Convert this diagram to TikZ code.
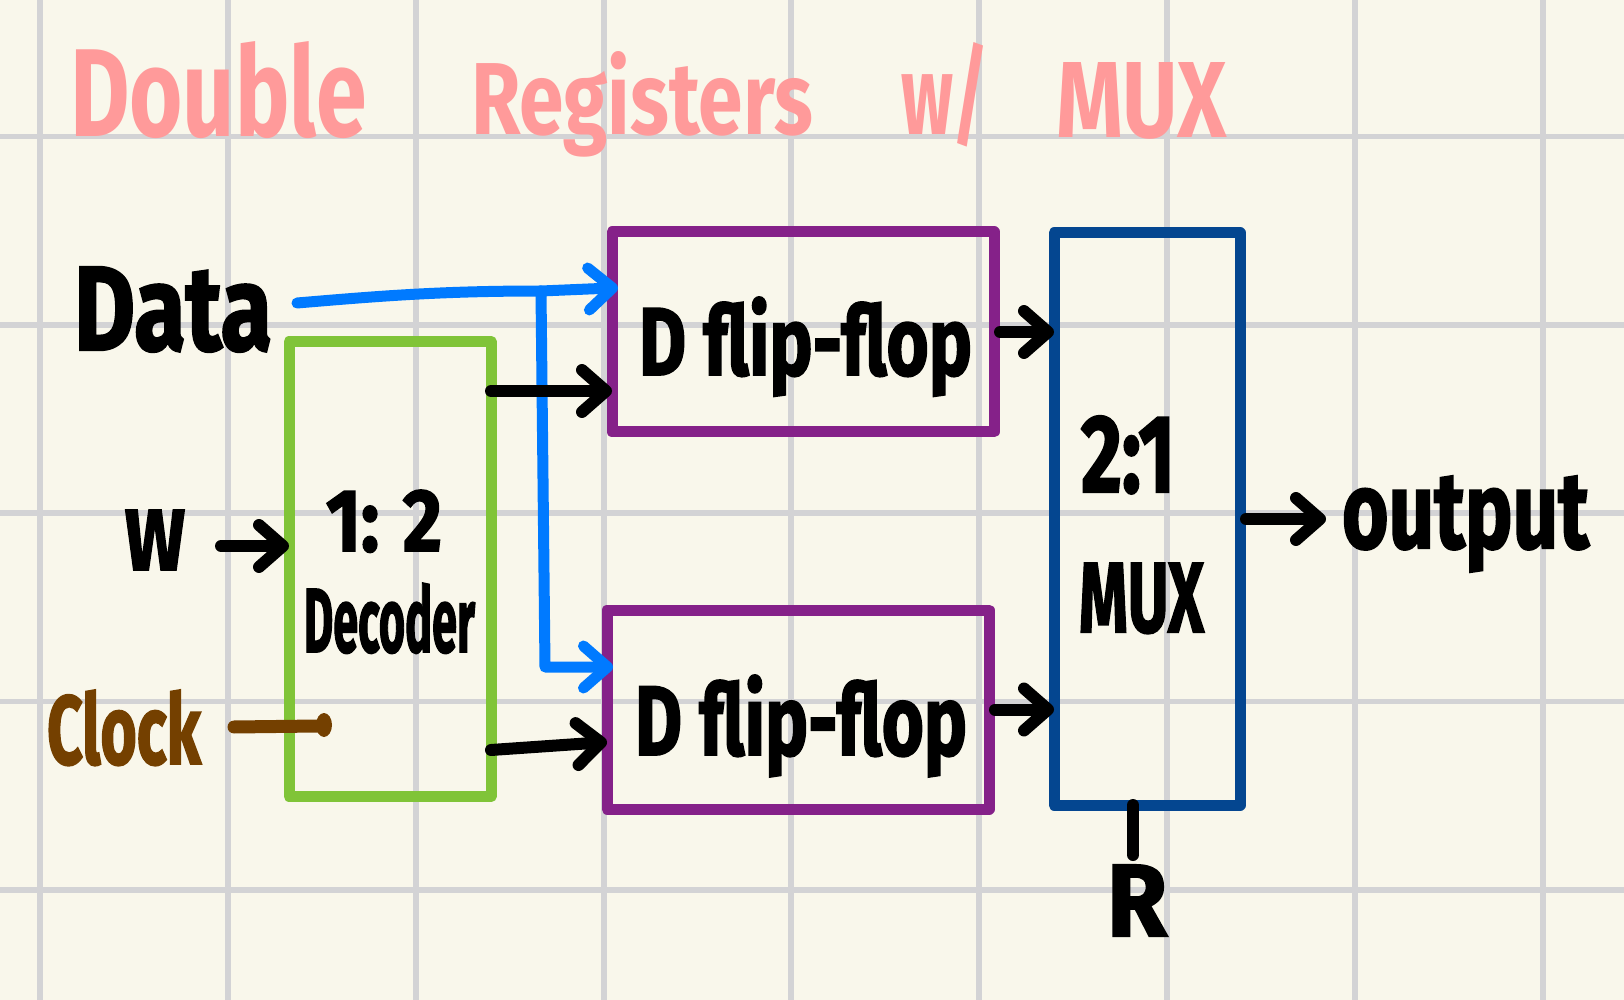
\documentclass[tikz,border=0pt]{standalone}
\usepackage{fontspec}
\usepackage{graphicx}
\usetikzlibrary{arrows.meta}
\newfontfamily\handfont[FakeBold=2]{Fira Sans}
\newfontfamily\titlefont{Fira Sans}
\definecolor{bg}{RGB}{249,247,235}
\definecolor{gridc}{RGB}{211,211,213}
\definecolor{pinkc}{RGB}{255,154,154}
\definecolor{greenc}{RGB}{128,196,56}
\definecolor{purplec}{RGB}{133,33,137}
\definecolor{navyc}{RGB}{4,70,144}
\definecolor{bluec}{RGB}{0,122,255}
\definecolor{brownc}{RGB}{116,64,0}
\newcommand\fitto[3]{\resizebox{#1}{#2}{#3}}
\begin{document}
\begin{tikzpicture}[x=0.5pt,y=-0.5pt,
  lbl/.style={inner sep=0pt, outer sep=0pt, anchor=base west, font=\handfont\bfseries},
  ttl/.style={inner sep=0pt, outer sep=0pt, anchor=base west, text=pinkc, font=\titlefont\bfseries},
  box/.style={draw, line width=5.5pt, line join=round, inner sep=0pt, outer sep=0pt},
  barb/.tip={Straight Barb[length=12pt,width=21pt,round]},
  stroke/.style={line width=6pt, line cap=round, line join=round},
  blk/.style={stroke, -barb},
  blu/.style={draw=bluec, line width=5.5pt, line cap=round, line join=round, -barb, shorten >=-3pt},
  gridline/.style={draw=gridc, line width=2.6pt}
]
\useasboundingbox (0,0) rectangle (1624,1000);
\fill[bg] (0,0) rectangle (1624,1000);
\foreach \gx in {40,228,416,604,791,979,1167,1355,1543}
  \draw[gridline] (\gx,0) -- (\gx,1000);
\foreach \gy in {136.5,325,513,701.5,890}
  \draw[gridline] (0,\gy) -- (1624,\gy);

% title
\node[ttl] (t1) at (70,137) {\fitto{148.5pt}{47.5pt}{Double}};
\node[ttl] (t2) at (471,135) {\fitto{171pt}{41.5pt}{Registers}};
\node[ttl] (t3) at (901,135) {\fitto{44pt}{46pt}{w/}};
\node[ttl] (t4) at (1056,138) {\fitto{85.5pt}{37.5pt}{MUX}};

% boxes
\node[box, draw=greenc, minimum width=101pt, minimum height=227.5pt] (dec) at (390,569) {};
\node[box, draw=purplec, minimum width=191pt, minimum height=100pt] (ff1) at (803,332) {};
\node[box, draw=purplec, minimum width=191pt, minimum height=99.5pt] (ff2) at (798,709.5) {};
\node[box, draw=navyc, minimum width=93pt, minimum height=286pt] (mux) at (1147,519) {};

% labels
\node[lbl] (data) at (74,350) {\fitto{99pt}{41.5pt}{Data}};
\node[lbl] (w) at (125,570) {\fitto{30pt}{30pt}{W}};
\node[lbl] (ratio) at (326,551) {\fitto{58pt}{30.5pt}{1: 2}};
\node[lbl] (decl) at (304,652) {\fitto{85.5pt}{34.5pt}{Decoder}};
\node[lbl, text=brownc] (clk) at (47,764) {\fitto{77pt}{37pt}{Clock}};
\node[lbl] (ff1l) at (639,375) {\fitto{166.5pt}{39pt}{D flip-flop}};
\node[lbl] (ff2l) at (635,755) {\fitto{166pt}{40pt}{D flip-flop}};
\node[lbl] (muxa) at (1081,492) {\fitto{47pt}{38pt}{2:1}};
\node[lbl] (muxb) at (1079,632) {\fitto{62.5pt}{34.5pt}{MUX}};
\node[lbl] (out) at (1342,548) {\fitto{123.5pt}{36pt}{output}};
\node[lbl] (r) at (1107,936) {\fitto{30pt}{35.5pt}{R}};

% coordinates for free ends
\coordinate (dst) at (297,303);
\coordinate (jn) at (541,291);
\coordinate (jb) at (545,667);
\coordinate (wst) at (221,546);
\coordinate (oute) at (1326,519);
\coordinate (rbot) at (1133,855);
\coordinate (cst) at (234,727);
\coordinate (cend) at (318,726);

% data (blue)
\draw[blu] (dst) .. controls (380,296) and (440,291) .. (jn) -- (ff1.west |- 0,288);
\draw[blu] (jn) -- (jb) -- (ff2.west |- jb);

% black connectors
\draw[blk] (wst) -- (wst -| dec.west);
\draw[blk] (dec.east |- 0,391) -- (ff1.west |- 0,391);
\draw[blk] (dec.east |- 0,750) -- (ff2.west |- 0,742);
\draw[blk] ([xshift=3pt]ff1.east) -- (ff1.east -| mux.west);
\draw[blk] ([xshift=3pt]ff2.east) -- (ff2.east -| mux.west);
\draw[blk] ([xshift=3pt]mux.east) -- (oute);
\draw[stroke] ([xshift=-7pt]mux.south) -- (rbot);

% clock
\draw[brownc, line width=6.5pt, line cap=round] (cst) -- (cend);
\fill[brownc] (324,725) ellipse (8 and 12);
\end{tikzpicture}
\end{document}
